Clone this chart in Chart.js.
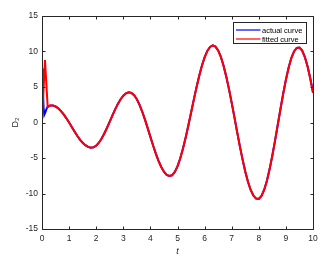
<!DOCTYPE html>
<html><head><meta charset="utf-8">
<script src="https://cdn.jsdelivr.net/npm/chart.js@4/dist/chart.umd.min.js"></script>
<style>html,body{margin:0;padding:0;background:#fff;}#wrap{width:328px;height:260px;}</style>
</head><body><div id="wrap"><canvas id="c" width="328" height="260"></canvas></div>
<script>
// ---- data ----
const seriesLabels = ['actual curve', 'fitted curve'];
const xTicks = [0,1,2,3,4,5,6,7,8,9,10];
const yTicks = [-15,-10,-5,0,5,10,15];
// start transient, actual curve
const tActualStart = [0, 0.03, 0.06, 0.085, 0.12, 0.16, 0.2, 0.25, 0.3, 0.35];
const dActualStart = [7.6, 4.6, 2.0, 1.1, 1.4, 1.85, 2.15, 2.3, 2.38, 2.4];
// start transient, fitted curve
const tFittedStart = [0, 0.11, 0.21, 0.25, 0.3, 0.35];
const dFittedStart = [0.1, 8.8, 2.2, 2.3, 2.38, 2.4];
// common part (both curves overlap)
const tMain = [0.4,0.5,0.6,0.7,0.8,0.9,1.0,1.1,1.2,1.3,1.4,1.5,1.6,1.7,1.8,1.9,2.0,2.1,2.2,2.3,2.4,2.5,2.6,2.7,2.8,2.9,3.0,3.1,3.2,3.3,3.4,3.5,3.6,3.7,3.8,3.9,4.0,4.1,4.2,4.3,4.4,4.5,4.6,4.7,4.8,4.9,5.0,5.1,5.2,5.3,5.4,5.5,5.6,5.7,5.8,5.9,6.0,6.1,6.2,6.3,6.4,6.5,6.6,6.7,6.8,6.9,7.0,7.1,7.2,7.3,7.4,7.5,7.6,7.7,7.8,7.9,8.0,8.1,8.2,8.3,8.4,8.5,8.6,8.7,8.8,8.9,9.0,9.1,9.2,9.3,9.4,9.5,9.6,9.7,9.8,9.9,10.0];
const dMain = [2.38,2.25,1.99,1.61,1.14,0.59,-0.01,-0.64,-1.26,-1.86,-2.40,-2.85,-3.20,-3.44,-3.54,-3.50,-3.27,-2.85,-2.26,-1.55,-0.74,0.13,1.01,1.85,2.62,3.28,3.78,4.11,4.25,4.17,3.84,3.27,2.48,1.51,0.40,-0.79,-2.02,-3.24,-4.38,-5.41,-6.27,-6.94,-7.37,-7.54,-7.44,-6.97,-6.18,-5.08,-3.71,-2.14,-0.42,1.37,3.19,4.93,6.56,7.99,9.18,10.08,10.64,10.85,10.69,10.15,9.24,7.99,6.46,4.70,2.77,0.75,-1.32,-3.32,-5.20,-6.91,-8.34,-9.50,-10.29,-10.72,-10.77,-10.34,-9.47,-8.20,-6.56,-4.65,-2.55,-0.32,1.90,4.05,6.02,7.70,9.07,10.01,10.51,10.56,10.12,9.22,7.90,6.20,4.2];

function pts(ts, ds){ return ts.map((t,i)=>({x:t, y:ds[i]})); }
const actualPts = pts(tActualStart, dActualStart).concat(pts(tMain, dMain));
const fittedPts = pts(tFittedStart, dFittedStart).concat(pts(tMain, dMain));

const AX = '#262626';
const FAM = '"Liberation Sans", Arial, sans-serif';
const FONT = {family:FAM, size:8.5};

const frame = {
  id:'frame',
  afterDatasetsDraw(chart){
    const {ctx, chartArea:a, scales:{x,y}} = chart;
    ctx.save();
    ctx.strokeStyle = AX; ctx.lineWidth = 1;
    const L = Math.round(a.left)+0.5, R = Math.round(a.right)+0.5, T = Math.round(a.top)+0.5, B = Math.round(a.bottom)+0.5;
    ctx.beginPath();
    ctx.moveTo(L,T); ctx.lineTo(R,T); ctx.lineTo(R,B); ctx.lineTo(L,B); ctx.closePath();
    const tl = 3;
    x.ticks.forEach(tk=>{ const p = Math.round(x.getPixelForValue(tk.value))+0.5;
      ctx.moveTo(p,B); ctx.lineTo(p,B-tl); ctx.moveTo(p,T); ctx.lineTo(p,T+tl); });
    y.ticks.forEach(tk=>{ const p = Math.round(y.getPixelForValue(tk.value))+0.5;
      ctx.moveTo(L,p); ctx.lineTo(L+tl,p); ctx.moveTo(R,p); ctx.lineTo(R-tl,p); });
    ctx.stroke();
    // legend box (inside, north-east)
    const bx = 233.5, by = 22.5, bw = 73, bh = 21;
    ctx.fillStyle = '#fff'; ctx.fillRect(bx, by, bw, bh);
    ctx.strokeStyle = AX; ctx.strokeRect(bx, by, bw, bh);
    ctx.font = '7.5px ' + FAM;
    ctx.textBaseline = 'middle'; ctx.textAlign = 'left';
    chart.data.datasets.forEach((ds,i)=>{
      const yy = by + 7.5 + i*9;
      ctx.strokeStyle = ds.borderColor; ctx.lineWidth = 1.2;
      ctx.beginPath(); ctx.moveTo(bx+2.5, yy); ctx.lineTo(bx+27, yy); ctx.stroke();
      ctx.fillStyle = '#000'; ctx.fillText(ds.label, bx+28.5, yy+0.5);
    });
    ctx.restore();
  }
};

new Chart(document.getElementById('c'), {
  type:'line',
  data:{ datasets:[
    {label:seriesLabels[0], data:actualPts, borderColor:'#0000ff', borderWidth:2, pointRadius:0, tension:0, fill:false, order:2},
    {label:seriesLabels[1], data:fittedPts, borderColor:'#ff0000', borderWidth:2, pointRadius:0, tension:0, fill:false, order:1}
  ]},
  options:{
    responsive:false, animation:false,
    layout:{padding:{top:16, right:15, left:0, bottom:0}},
    plugins:{legend:{display:false}, tooltip:{enabled:false}},
    scales:{
      x:{ type:'linear', min:0, max:10,
        afterBuildTicks(s){ s.ticks = xTicks.map(v=>({value:v})); },
        afterFit(s){ s.height = 31; },
        grid:{display:false, drawTicks:false}, border:{display:false},
        ticks:{font:FONT, color:AX, padding:5, maxRotation:0, autoSkip:false},
        title:{display:true, text:'t', font:{family:FAM, size:9, style:'italic'}, color:AX, padding:{top:0,bottom:3}}
      },
      y:{ type:'linear', min:-15, max:15,
        afterBuildTicks(s){ s.ticks = yTicks.map(v=>({value:v})); },
        afterFit(s){ s.width = 42; },
        grid:{display:false, drawTicks:false}, border:{display:false},
        ticks:{font:FONT, color:AX, padding:4, autoSkip:false},
        title:{display:true, text:'D₂', font:{family:FAM, size:9}, color:AX, padding:{top:10,bottom:0}}
      }
    }
  },
  plugins:[frame]
});
</script></body></html>
